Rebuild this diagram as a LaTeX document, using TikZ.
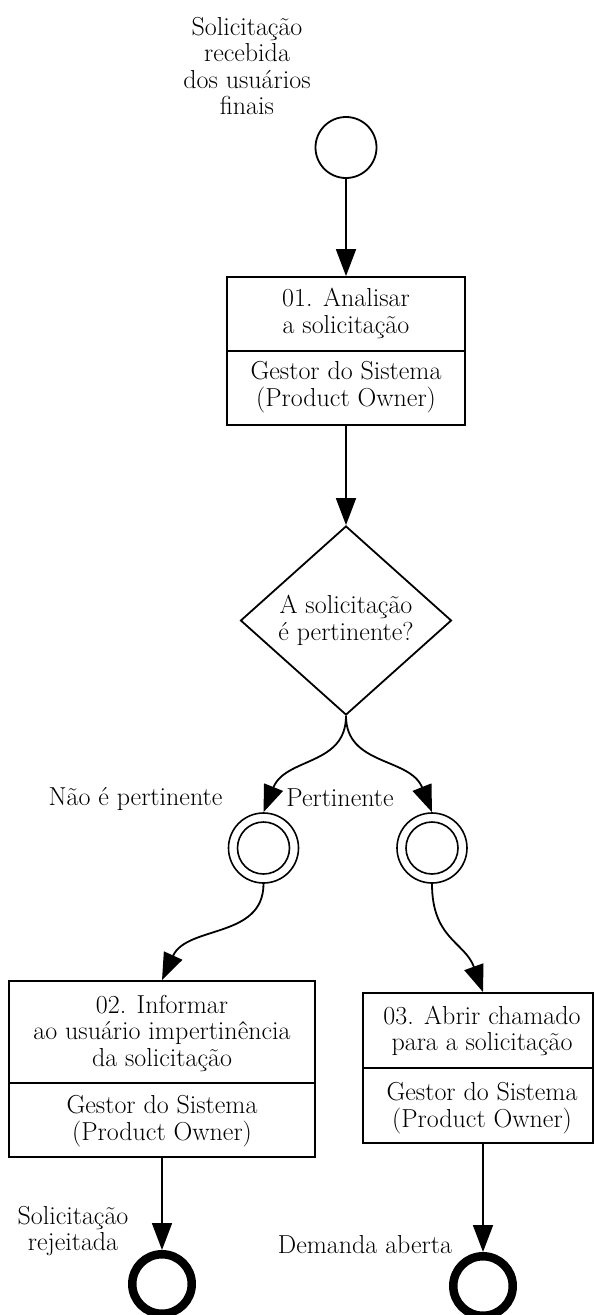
\documentclass[tikz,border=0pt]{standalone}
\usepackage{fontspec}
\usetikzlibrary{arrows.meta,shapes.geometric}
\begin{document}
\begin{tikzpicture}[x=1pt,y=-1pt,
  every node/.style={font=\fontsize{26}{26.5}\selectfont, inner sep=0pt, align=center},
  conn/.style={line width=1.8pt, -{Triangle[length=27pt,width=20pt]}},
  taskbox/.style={draw, line width=1.8pt, rectangle},
  divider/.style={line width=1.8pt},
  startev/.style={draw, circle, line width=1.8pt, minimum size=61pt},
  interev/.style={draw, circle, line width=1.6pt, minimum size=70pt},
  innerring/.style={line width=1.6pt},
  endev/.style={draw, circle, line width=8.5pt, minimum size=59.5pt},
  gate/.style={draw, diamond, line width=1.8pt, minimum width=211pt, minimum height=189pt}
]
\useasboundingbox (0,0) rectangle (595,1315);

% start event
\node (lbl0) at (247,66) {Solicitação\\recebida\\dos usuários\\finais};
\node[startev] (s) at (346,147.5) {};

% task 1
\node[taskbox, minimum width=238pt, minimum height=148pt] (t1) at (346,351) {};
\draw[divider] (227,351) -- (465,351);
\node (t1a) at (346,313.5) {01. Analisar\\a solicitação};
\node (t1b) at (346,387) {Gestor do Sistema\\(Product Owner)};

% gateway
\node[gate] (g) at (346,620.5) {A solicitação\\é pertinente?};

% intermediate events
\node[interev] (i1) at (263.5,848) {};
\draw[innerring] (i1.center) circle (26);
\node[interev] (i2) at (432,848) {};
\draw[innerring] (i2.center) circle (26);

\node (lno) at (135.5,799) {Não é pertinente};
\node (lyes) at (340,798) {Pertinente};

% task 2
\node[taskbox, minimum width=306pt, minimum height=176pt] (t2) at (162,1069) {};
\draw[divider] (9,1083) -- (315,1083);
\node (t2a) at (162,1033) {02. Informar\\ao usuário impertinência\\da solicitação};
\node (t2b) at (162,1121) {Gestor do Sistema\\(Product Owner)};

% task 3
\node[taskbox, minimum width=230pt, minimum height=150pt] (t3) at (478,1068) {};
\draw[divider] (363,1068) -- (593,1068);
\node (t3a) at (482,1031) {03. Abrir chamado\\para a solicitação};
\node (t3b) at (482,1108) {Gestor do Sistema\\(Product Owner)};

% end events
\node[endev] (e1) at (162,1284) {};
\node[endev] (e2) at (483,1286) {};
\node (lrej) at (73,1231) {Solicitação\\rejeitada};
\node (ldem) at (365,1245) {Demanda aberta};

% connectors
\draw[conn] (s.south) -- (t1.north);
\draw[conn] (t1.south) -- (g.north);
\draw[conn] (g.south) .. controls +(0,50) and +(22,-55) .. (i1.north);
\draw[conn] (g.south) .. controls +(0,50) and +(-22,-55) .. (i2.north);
\draw[conn] (i1.south) .. controls +(0,55) and +(25,-55) .. (t2.north);
\draw[conn] (i2.south) .. controls +(0,55) and +(-18,-50) .. (t3.north -| 483,0);
\draw[conn] (t2.south) -- (e1.north);
\draw[conn] (t3.south -| 483,0) -- (e2.north);
\end{tikzpicture}
\end{document}
